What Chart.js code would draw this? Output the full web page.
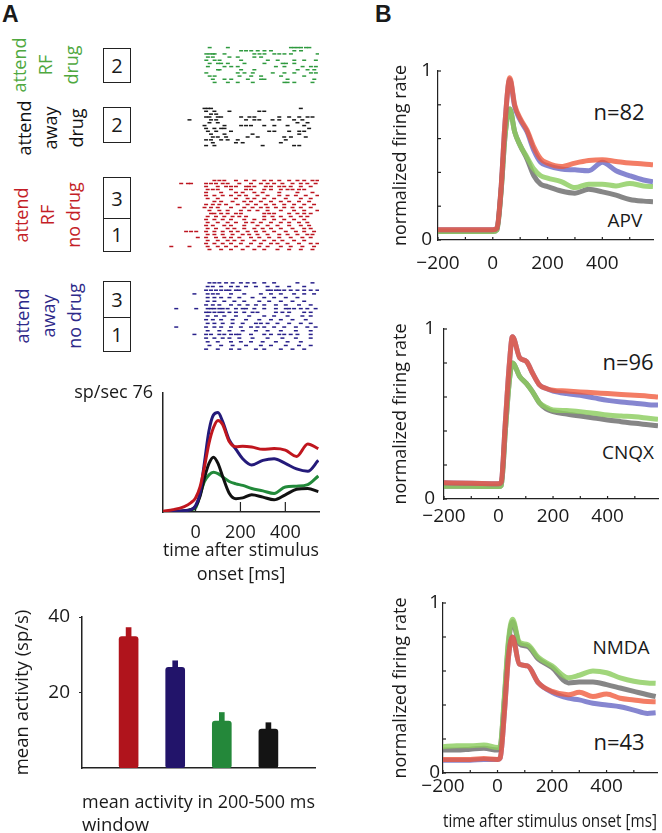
<!DOCTYPE html>
<html>
<head>
<meta charset="utf-8">
<script src="https://cdn.jsdelivr.net/npm/chart.js@4"></script>
<style>
html, body { margin: 0; padding: 0; width: 662px; height: 833px; overflow: hidden; background: #fff; }
body { position: relative; font-family: 'Open Sans', sans-serif; color: #1a1a1a; }
canvas { position: absolute; }
.t { position: absolute; white-space: nowrap; line-height: 1; transform: translate(-50%, -50%); }
.cond { position: absolute; white-space: nowrap; text-align: center; font-size: 18px; line-height: 26px; transform: translate(-50%, -50%) rotate(-90deg); }
.box { position: absolute; left: 103px; width: 28px; border: 1.5px solid #222; box-sizing: border-box; font-size: 20px; }
.box div { display: flex; align-items: center; justify-content: center; box-sizing: border-box; }
.box div + div { border-top: 1.5px solid #222; }
.panel { position: absolute; font: bold 23px 'Liberation Sans', sans-serif; }
</style>
</head>
<body>
<div class="panel" style="left:2px;top:1px">A</div>
<div class="panel" style="left:375px;top:1px">B</div>

<div class="cond" style="left:45px;top:65px;color:#4fa840">attend<br>RF<br>drug</div>
<div class="cond" style="left:50px;top:128px;color:#111">attend<br>away<br>drug</div>
<div class="cond" style="left:47px;top:215px;color:#c41e27">attend<br>RF<br>no drug</div>
<div class="cond" style="left:48px;top:316px;color:#2e2a8a">attend<br>away<br>no drug</div>

<div class="box" style="top:48px;height:35px"><div style="height:32px">2</div></div>
<div class="box" style="top:107px;height:36px"><div style="height:33px">2</div></div>
<div class="box" style="top:177px;height:75px"><div style="height:40px">3</div><div style="height:32px">1</div></div>
<div class="box" style="top:281px;height:71px"><div style="height:35px">3</div><div style="height:33px">1</div></div>

<div class="t" style="left:619px;top:111px;font-size:22px">n=82</div>
<div class="t" style="left:625px;top:220px;font-size:19px">APV</div>
<div class="t" style="left:628px;top:361px;font-size:22px">n=96</div>
<div class="t" style="left:628px;top:452px;font-size:19px">CNQX</div>
<div class="t" style="left:621px;top:647px;font-size:19px">NMDA</div>
<div class="t" style="left:619px;top:741px;font-size:22px">n=43</div>

<canvas id="rasterGreen" width="156" height="38" style="left:163px;top:46px"></canvas>
<canvas id="rasterBlack" width="156" height="40" style="left:163px;top:107px"></canvas>
<canvas id="rasterRed" width="156" height="72" style="left:163px;top:179px"></canvas>
<canvas id="rasterBlue" width="156" height="70" style="left:163px;top:281px"></canvas>
<canvas id="psth" width="267" height="207" style="left:60px;top:383px"></canvas>
<canvas id="bars" width="330" height="240" style="left:0px;top:600px"></canvas>
<canvas id="apv" width="282" height="250" style="left:380px;top:40px"></canvas>
<canvas id="cnqx" width="282" height="250" style="left:380px;top:300px"></canvas>
<canvas id="nmda" width="282" height="263" style="left:380px;top:570px"></canvas>

<script>
// spike times (ms) per trial, one inner array per raster row
const rasterRFDrug = [
  [63, 144, 425, 440, 455, 470, 492, 507],
  [203, 225, 248, 277, 307, 336, 440, 470],
  [48, 63, 77, 85, 129, 262, 285, 307, 351, 373, 396, 425, 544],
  [55, 77, 151, 188, 262, 292],
  [48, 85, 107, 203, 322, 366, 440, 484, 536],
  [63, 100, 114, 144, 218, 307, 388, 403, 440],
  [55, 129, 159, 188, 358, 396, 477, 514, 536],
  [100, 107, 203, 262, 455, 499, 529],
  [48, 188, 218, 255, 344, 396, 440, 514, 536],
  [63, 85, 196, 248, 292, 381, 484],
  [77, 129, 159, 233, 292, 307, 410, 529],
  [85, 144, 188, 255, 396, 410, 440, 521]
]
const rasterAwayDrug = [
  [40, 55, 69, 469],
  [47, 84, 151, 284, 306],
  [69, 92],
  [47, 62, 99, 114, 203, 240, 262, 373, 417, 462, 499, 521],
  [-27, 69, 92, 225, 262, 284, 343, 373, 439, 476],
  [62, 99, 454, 499],
  [40, 129, 203, 225, 247, 306, 351, 410, 484],
  [47, 84, 114, 129, 506],
  [55, 92, 158, 328, 351, 417, 462, 484],
  [69, 129, 254, 462],
  [77, 99, 136, 232, 277, 395, 425, 491],
  [47, 69, 114, 143, 188, 402],
  [77, 180, 210, 380],
  [47, 84, 299, 439, 462]
]
const rasterRF = [
  [84, 106, 128, 180, 225, 262, 306, 336, 373, 417, 454, 484, 521, 543],
  [-64, -34, -20, 47, 69, 91, 121, 143, 195, 247, 291, 321, 350, 387, 432, 469, 498, 535],
  [47, 99, 136, 158, 180, 225, 239, 262, 313, 336, 373, 395, 424, 469, 513],
  [54, 77, 99, 158, 225, 247, 306, 336, 380, 410, 432, 461, 484],
  [47, 114, 180, 210, 262, 299, 373, 454, 521],
  [47, 84, 121, 158, 195, 225, 276, 321, 373, 410, 447, 491, 543],
  [54, 99, 180, 232, 262, 306, 350, 402, 469, 513],
  [84, 114, 165, 217, 247, 291, 336, 380, 417, 461, 506],
  [47, 77, 106, 136, 188, 232, 269, 313, 350, 395, 439, 484, 528],
  [-71, 40, 69, 99, 158, 217, 254, 291, 321, 358, 395, 432, 469, 513],
  [62, 106, 143, 202, 239, 276, 321, 380, 439, 484, 543],
  [69, 84, 114, 143, 180, 202, 306, 328, 350, 417, 454, 484, 513],
  [54, 91, 128, 165, 195, 225, 306, 343, 380, 424, 469, 498],
  [47, 84, 121, 158, 217, 262, 306, 350, 395, 439, 484],
  [54, 99, 143, 180, 225, 254, 291, 336, 380, 417, 461, 498],
  [47, 77, 128, 158, 217, 276, 321, 365, 417, 469, 506],
  [54, 91, 143, 173, 217, 262, 299, 336, 380, 432, 484, 513],
  [-42, -20, 3, 47, 84, 121, 158, 188, 232, 269, 306, 350, 402, 447, 484, 528],
  [54, 84, 121, 165, 210, 239, 276, 321, 373, 410, 454, 498, 521],
  [10, 47, 91, 128, 158, 195, 247, 284, 328, 373, 424, 476, 513],
  [54, 99, 143, 173, 210, 262, 306, 350, 387, 439, 484],
  [47, 84, 121, 158, 202, 247, 291, 336, 365, 410, 461, 513, 543],
  [-108, -27, 54, 99, 136, 180, 232, 284, 321, 380, 424, 476, 528],
  [62, 114, 158, 210, 262, 306, 365, 417, 469, 521]
]
const rasterAway = [
  [62, 84, 106, 136, 165, 202, 232, 262, 306, 350, 454, 521],
  [54, 77, 114, 158, 188, 225, 269, 321, 365, 417, 484],
  [47, 69, 91, 114, 136, 151, 180, 195, 321, 336, 358, 373, 395, 424, 454, 484, 513, 543],
  [-5, 54, 77, 99, 158, 217, 291, 336, 380, 439, 484, 528],
  [54, 84, 114, 151, 195, 254, 306, 350, 402, 454],
  [54, 84, 128, 173, 217, 284, 328, 380, 432, 484],
  [47, 77, 106, 158, 195, 232, 269, 306, 358, 402, 461, 513],
  [-86, 3, 54, 69, 84, 106, 121, 143, 180, 210, 225, 262, 306, 358, 402, 417, 439, 469, 498, 535],
  [47, 62, 84, 106, 121, 151, 180, 217, 254, 276, 358, 387, 417, 484, 513],
  [54, 91, 128, 180, 239, 306, 350, 410, 476, 513],
  [47, 77, 114, 165, 225, 284, 336, 380, 432, 491],
  [54, 84, 121, 165, 210, 269, 291, 321, 365, 417, 469, 513],
  [-86, 47, 84, 114, 158, 202, 247, 276, 306, 350, 395, 447, 498, 535],
  [54, 106, 151, 210, 269, 321, 380, 447, 513],
  [-5, 47, 69, 106, 128, 158, 180, 195, 247, 306, 336, 373, 395, 424, 454, 513],
  [47, 84, 121, 151, 195, 254, 321, 387, 447, 513],
  [54, 99, 158, 202, 247, 299, 358, 410, 469],
  [62, 114, 165, 225, 291, 336, 402, 461, 513],
  [47, 99, 158, 195, 269, 306, 380, 432, 484]
]

// PSTH (sp/sec)
const psthTime = [-145, -100, -50, -20, 0, 20, 40, 60, 80, 100, 120, 150, 180, 210, 250, 300, 350, 400, 450, 500, 547]
const psthRF = [0.5, 1.5, 3.5, 6, 9, 16, 29, 44, 54, 58.5, 56, 45, 41.7, 42, 41.5, 40, 40.5, 39.5, 35.5, 43.5, 40.5]
const psthAway = [0, 0.3, 0.8, 1.5, 4, 12, 32, 52, 62, 63.5, 58, 46, 40, 34, 30, 33, 34, 31, 27.5, 26, 33]
const psthRFDrug = [0, 0, 0.3, 1.5, 2.5, 11, 19.5, 23.7, 25.4, 24.5, 22.5, 19.5, 18, 17, 15, 13.5, 11.8, 16, 16.5, 17.5, 23]
const psthAwayDrug = [0, 0.2, 0.8, 1.5, 3.5, 10, 22, 31, 35, 31, 23, 12, 8.5, 9, 11, 9.5, 7.8, 11, 14.5, 15, 13]
const psthTicks = [0, 200, 400]
const psthTickLen = [3, 10, 10]
const psthMaxRate = 76

// mean activity 200-500 ms window (blank slots at both ends of the axis)
const barLabels = ['', 'attend RF no drug', 'attend away no drug', 'attend RF drug', 'attend away drug', '']
const barMeans = [null, 34.8, 26.7, 12.4, 10.3, null]
const barErr = [null, 2.4, 1.7, 2.3, 1.7, null]
const barTicks = [20, 40]

// normalized population responses
const apvTime = [-200, -100, 0, 15, 30, 45, 62, 80, 100, 125, 150, 175, 200, 250, 300, 350, 400, 450, 500, 550, 585]
const apvRF = [0.06, 0.06, 0.06, 0.07, 0.30, 0.70, 0.96, 0.80, 0.72, 0.65, 0.55, 0.48, 0.455, 0.435, 0.455, 0.47, 0.475, 0.465, 0.455, 0.45, 0.445]
const apvAway = [0.06, 0.06, 0.06, 0.07, 0.30, 0.70, 0.95, 0.79, 0.71, 0.64, 0.53, 0.46, 0.44, 0.42, 0.415, 0.41, 0.46, 0.41, 0.38, 0.355, 0.345]
const apvRFDrug = [0.05, 0.05, 0.05, 0.06, 0.28, 0.62, 0.775, 0.64, 0.56, 0.49, 0.42, 0.38, 0.366, 0.346, 0.31, 0.33, 0.33, 0.32, 0.335, 0.32, 0.316]
const apvAwayDrug = [0.05, 0.05, 0.05, 0.06, 0.28, 0.62, 0.775, 0.64, 0.56, 0.48, 0.38, 0.33, 0.316, 0.29, 0.277, 0.30, 0.285, 0.265, 0.24, 0.23, 0.227]

const cnqxTime = [-200, -100, 0, 10, 25, 40, 51, 78, 102, 125, 151, 175, 200, 250, 300, 350, 400, 450, 500, 550, 585]
const cnqxRF = [0.095, 0.093, 0.09, 0.10, 0.45, 0.80, 0.955, 0.83, 0.81, 0.74, 0.67, 0.65, 0.64, 0.635, 0.63, 0.625, 0.62, 0.615, 0.61, 0.605, 0.60]
const cnqxAway = [0.095, 0.093, 0.09, 0.10, 0.45, 0.80, 0.955, 0.83, 0.81, 0.74, 0.67, 0.65, 0.635, 0.62, 0.61, 0.595, 0.58, 0.57, 0.563, 0.555, 0.553]
const cnqxRFDrug = [0.075, 0.075, 0.073, 0.08, 0.40, 0.70, 0.80, 0.72, 0.68, 0.63, 0.565, 0.54, 0.524, 0.52, 0.514, 0.505, 0.494, 0.488, 0.484, 0.475, 0.469]
const cnqxAwayDrug = [0.075, 0.075, 0.073, 0.08, 0.40, 0.70, 0.80, 0.72, 0.68, 0.63, 0.563, 0.53, 0.514, 0.50, 0.488, 0.477, 0.465, 0.455, 0.445, 0.437, 0.431]

const nmdaTime = [-200, -150, -100, -50, 0, 10, 25, 40, 55, 80, 110, 150, 200, 260, 300, 350, 400, 450, 500, 550, 580]
const nmdaRF = [0.08, 0.08, 0.08, 0.085, 0.08, 0.09, 0.35, 0.68, 0.80, 0.64, 0.63, 0.53, 0.48, 0.46, 0.475, 0.45, 0.465, 0.44, 0.43, 0.42, 0.419]
const nmdaAway = [0.075, 0.075, 0.075, 0.08, 0.08, 0.09, 0.35, 0.68, 0.80, 0.64, 0.63, 0.53, 0.475, 0.44, 0.43, 0.41, 0.40, 0.39, 0.37, 0.35, 0.354]
const nmdaRFDrug = [0.155, 0.16, 0.16, 0.165, 0.15, 0.16, 0.45, 0.78, 0.905, 0.77, 0.755, 0.68, 0.63, 0.56, 0.575, 0.60, 0.59, 0.56, 0.54, 0.53, 0.528]
const nmdaAwayDrug = [0.135, 0.135, 0.14, 0.145, 0.135, 0.15, 0.43, 0.76, 0.89, 0.76, 0.745, 0.67, 0.62, 0.53, 0.535, 0.535, 0.52, 0.50, 0.48, 0.46, 0.449]

const bTicksX = [-200, -100, 0, 100, 200, 300, 400, 500]
const bLabelsX = [-200, 0, 200, 400]
const bTicksY = [0, 0.2, 0.4, 0.6, 0.8, 1]

Chart.defaults.font.family = "'Open Sans', sans-serif"
Chart.defaults.font.size = 18
Chart.defaults.color = '#1a1a1a'

const pts = (xs, ys) => xs.map((x, i) => ({x, y: ys[i]}))
const rasterPts = rows => rows.flatMap((row, i) => row.map(t => ({x: t, y: i + 1})))
const fixW = w => s => { s.width = w; s.paddingTop = 0; s.paddingBottom = 0 }
const fixH = h => s => { s.height = h; s.paddingLeft = 0; s.paddingRight = 0 }
const setTicks = vals => s => { s.ticks = vals.map(v => ({value: v})) }
const minus = v => v < 0 ? '\u2212' + (-v) : String(v)
const base = {responsive: false, animation: false, events: [], plugins: {legend: {display: false}, tooltip: {enabled: false}}}

// matlab style ticks pointing into the plot
function inward(xLen, yLen) {
    return {
        id: 'inward',
        afterDraw(chart) {
            const {ctx, chartArea: a, scales} = chart
            ctx.save()
            ctx.strokeStyle = '#222'
            ctx.lineWidth = 1.2
            if (xLen) scales.x.ticks.forEach((t, i) => {
                const px = scales.x.getPixelForValue(t.value)
                const len = Array.isArray(xLen) ? xLen[i] : xLen
                ctx.beginPath(); ctx.moveTo(px, a.bottom); ctx.lineTo(px, a.bottom - len); ctx.stroke()
            })
            if (yLen) scales.y.ticks.forEach(t => {
                const py = scales.y.getPixelForValue(t.value)
                ctx.beginPath(); ctx.moveTo(a.left, py); ctx.lineTo(a.left + yLen, py); ctx.stroke()
            })
            ctx.restore()
        }
    }
}

function raster(id, rows, color) {
    new Chart(document.getElementById(id), {
        type: 'scatter',
        data: {datasets: [{data: rasterPts(rows), pointStyle: 'line', pointRadius: 2, pointBorderWidth: 1.5,
            borderColor: color, backgroundColor: color, clip: false}]},
        options: {...base, layout: {padding: 0, autoPadding: false},
            scales: {
                x: {type: 'linear', display: false, min: -145, max: 550},
                y: {type: 'linear', display: false, min: 0.5, max: rows.length + 0.5, reverse: true}
            }}
    })
}

raster('rasterGreen', rasterRFDrug, '#2f9a3f')
raster('rasterBlack', rasterAwayDrug, '#1a1a1a')
raster('rasterRed', rasterRF, '#bd1520')
raster('rasterBlue', rasterAway, '#28208a')

new Chart(document.getElementById('psth'), {
    type: 'line',
    data: {datasets: [
        {data: pts(psthTime, psthRF), borderColor: '#c0161e'},
        {data: pts(psthTime, psthAway), borderColor: '#241a7a'},
        {data: pts(psthTime, psthAwayDrug), borderColor: '#111111'},
        {data: pts(psthTime, psthRFDrug), borderColor: '#22893a'}
    ]},
    options: {...base,
        layout: {padding: {top: 10, right: 8, left: 0, bottom: 0}, autoPadding: false},
        elements: {point: {radius: 0}, line: {borderWidth: 3, cubicInterpolationMode: 'monotone'}},
        scales: {
            x: {type: 'linear', min: -145, max: 550, afterBuildTicks: setTicks(psthTicks), afterFit: fixH(78),
                grid: {display: false, drawTicks: false}, border: {color: '#222', width: 1.5},
                ticks: {padding: 10, autoSkip: false, maxRotation: 0, callback: v => String(v)},
                title: {display: true, text: ['time after stimulus', 'onset [ms]'], font: {size: 18, lineHeight: 1.333},
                    padding: {top: 0, bottom: 3}}},
            y: {type: 'linear', min: 0, max: psthMaxRate, afterBuildTicks: setTicks([psthMaxRate]), afterFit: fixW(103),
                grid: {display: false, drawTicks: false}, border: {color: '#222', width: 1.5},
                ticks: {padding: 10, callback: v => 'sp/sec ' + v}}
        }},
    plugins: [inward(psthTickLen, 0)]
})

const barColors = ['#b0141c', '#22146a', '#24883a', '#141414']
const barFill = ['#fff', ...barColors, '#fff']
new Chart(document.getElementById('bars'), {
    type: 'bar',
    data: {labels: barLabels, datasets: [
        {data: barMeans.map((m, i) => m === null ? null : [m, m + barErr[i]]), backgroundColor: barFill,
            barThickness: 5, grouped: false},
        {data: barMeans, backgroundColor: barFill,
            barThickness: 19, borderRadius: 3, borderSkipped: false, grouped: false}
    ]},
    options: {...base,
        layout: {padding: {top: 17, right: 15, left: 0, bottom: 0}, autoPadding: false},
        scales: {
            x: {type: 'category', offset: false, afterFit: fixH(72),
                grid: {display: false, drawTicks: false, offset: false}, border: {color: '#222', width: 1.5},
                ticks: {display: false},
                title: {display: true, align: 'start', text: ['mean activity in 200-500 ms', 'window'],
                    font: {size: 18.5, lineHeight: 1.243}, padding: {top: 0, bottom: 2.5}}},
            y: {type: 'linear', min: 0, max: 40, afterBuildTicks: setTicks(barTicks), afterFit: fixW(82),
                grid: {display: true, drawOnChartArea: false, drawTicks: true, tickLength: 3, color: '#222'},
                border: {color: '#222', width: 1.5},
                ticks: {padding: 9, font: {size: 19}},
                title: {display: true, text: 'mean activity (sp/s)', font: {size: 18.5}, padding: {top: 12, bottom: 0}}}
        }}
})

const bColors = ['rgba(240,88,58,0.78)', 'rgba(100,100,195,0.78)', 'rgba(140,205,95,0.82)', 'rgba(100,100,100,0.78)']
function bChart(id, times, series, o) {
    new Chart(document.getElementById(id), {
        type: 'line',
        data: {datasets: series.map((s, i) => ({data: pts(times, s), borderColor: bColors[i]}))},
        options: {...base,
            layout: {padding: {top: o.top, right: o.right, left: 0, bottom: 0}, autoPadding: false},
            elements: {point: {radius: 0}, line: {borderWidth: 5, cubicInterpolationMode: 'monotone'}},
            scales: {
                x: {type: 'linear', min: -200, max: 585, afterBuildTicks: setTicks(bTicksX), afterFit: fixH(o.xh),
                    grid: {display: false, drawTicks: false}, border: {color: '#222', width: 1.2},
                    ticks: {padding: o.xpad, autoSkip: false, maxRotation: 0, font: {size: 19},
                        callback: v => bLabelsX.includes(v) ? minus(v) : ''},
                    title: o.xtitle
                        ? {display: true, text: o.xtitle, align: 'end', padding: {top: 0, bottom: 0}}
                        : {display: false}},
                y: {type: 'linear', min: 0, max: 1, afterBuildTicks: setTicks(bTicksY), afterFit: fixW(o.yw),
                    grid: {display: false, drawTicks: false}, border: {color: '#222', width: 1.2},
                    ticks: {padding: o.ypad, font: {size: 19}, callback: v => (v === 0 || v === 1) ? String(v) : ''},
                    title: {display: true, text: 'normalized firing rate', padding: {top: 10, bottom: 0}}}
            }},
        plugins: [inward(3, 3)]
    })
}

bChart('apv', apvTime, [apvRF, apvAway, apvRFDrug, apvAwayDrug],
    {top: 31, right: 9, xh: 50, yw: 58, xpad: 12.5, ypad: 6})
bChart('cnqx', cnqxTime, [cnqxRF, cnqxAway, cnqxRFDrug, cnqxAwayDrug],
    {top: 29, right: 4, xh: 51, yw: 64, xpad: 6.5, ypad: 9})
bChart('nmda', nmdaTime, [nmdaRF, nmdaAway, nmdaRFDrug, nmdaAwayDrug],
    {top: 33, right: 5, xh: 60, yw: 63, xpad: 2.5, ypad: 3, xtitle: 'time after stimulus onset [ms]'})
</script>
</body>
</html>
